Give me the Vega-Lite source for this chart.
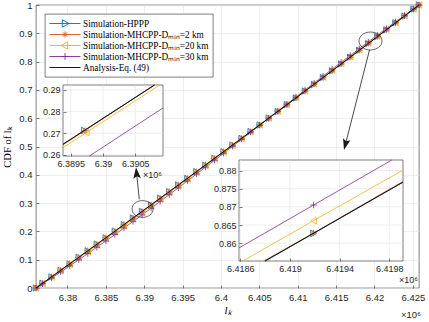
{
  "$schema": "https://vega.github.io/schema/vega-lite/v6.json",
  "width": 383,
  "height": 283,
  "autosize": {"type": "none"},
  "padding": {"left": 36, "top": 5, "right": 10, "bottom": 34},
  "background": "white",
  "config": {
    "view": {"stroke": "#262626", "strokeWidth": 0.6},
    "axis": {"labelFont": "Liberation Sans", "labelFontSize": 9.5, "labelColor": "#262626", "domain": false, "tickColor": "#262626", "tickSize": -3, "tickWidth": 0.6, "gridColor": "#e3e3e3", "gridWidth": 0.6, "gridOpacity": 1, "titleFontWeight": "normal", "titleColor": "#000000", "labelFlush": false, "labelOverlap": false},
    "point": {"opacity": 1},
    "text": {"font": "Liberation Sans"}
  },
  "resolve": {"scale": {"x": "independent", "y": "independent"}},
  "layer": [
    {
      "data": {"values": [
        {"x": 6.3759, "HPPP": 0, "M2": 0, "M20": 0, "M30": 0, "ANA": 0},
        {"x": 6.37675, "HPPP": 0.0168, "M2": 0.0163, "M20": 0.0159, "M30": 0.0148, "ANA": 0.0165},
        {"x": 6.37793, "HPPP": 0.0391, "M2": 0.0396, "M20": 0.0381, "M30": 0.0355, "ANA": 0.0394},
        {"x": 6.37911, "HPPP": 0.0627, "M2": 0.0622, "M20": 0.0605, "M30": 0.0566, "ANA": 0.0624},
        {"x": 6.38029, "HPPP": 0.0851, "M2": 0.0857, "M20": 0.0829, "M30": 0.078, "ANA": 0.0854},
        {"x": 6.38147, "HPPP": 0.1087, "M2": 0.1082, "M20": 0.1055, "M30": 0.0996, "ANA": 0.1084},
        {"x": 6.38265, "HPPP": 0.1312, "M2": 0.1318, "M20": 0.1282, "M30": 0.1216, "ANA": 0.1315},
        {"x": 6.38383, "HPPP": 0.1549, "M2": 0.1544, "M20": 0.151, "M30": 0.1438, "ANA": 0.1546},
        {"x": 6.385, "HPPP": 0.1773, "M2": 0.1779, "M20": 0.1738, "M30": 0.1662, "ANA": 0.1776},
        {"x": 6.38618, "HPPP": 0.201, "M2": 0.2005, "M20": 0.1967, "M30": 0.1889, "ANA": 0.2007},
        {"x": 6.38736, "HPPP": 0.2237, "M2": 0.2243, "M20": 0.22, "M30": 0.2119, "ANA": 0.224},
        {"x": 6.38854, "HPPP": 0.2475, "M2": 0.247, "M20": 0.2432, "M30": 0.2351, "ANA": 0.2472},
        {"x": 6.38972, "HPPP": 0.2708, "M2": 0.2706, "M20": 0.2665, "M30": 0.2585, "ANA": 0.2705},
        {"x": 6.3909, "HPPP": 0.2935, "M2": 0.2941, "M20": 0.2899, "M30": 0.2821, "ANA": 0.2938},
        {"x": 6.39208, "HPPP": 0.3175, "M2": 0.317, "M20": 0.3134, "M30": 0.3059, "ANA": 0.3172},
        {"x": 6.39326, "HPPP": 0.3403, "M2": 0.3409, "M20": 0.337, "M30": 0.3298, "ANA": 0.3406},
        {"x": 6.39444, "HPPP": 0.3643, "M2": 0.3638, "M20": 0.3606, "M30": 0.3539, "ANA": 0.364},
        {"x": 6.39562, "HPPP": 0.3872, "M2": 0.3878, "M20": 0.3844, "M30": 0.3782, "ANA": 0.3875},
        {"x": 6.3968, "HPPP": 0.4113, "M2": 0.4108, "M20": 0.4082, "M30": 0.4025, "ANA": 0.411},
        {"x": 6.39798, "HPPP": 0.4342, "M2": 0.4348, "M20": 0.432, "M30": 0.427, "ANA": 0.4345},
        {"x": 6.39916, "HPPP": 0.4584, "M2": 0.4579, "M20": 0.4559, "M30": 0.4516, "ANA": 0.4581},
        {"x": 6.40034, "HPPP": 0.4814, "M2": 0.482, "M20": 0.4799, "M30": 0.4762, "ANA": 0.4817},
        {"x": 6.40151, "HPPP": 0.5055, "M2": 0.505, "M20": 0.5037, "M30": 0.5008, "ANA": 0.5052},
        {"x": 6.40269, "HPPP": 0.5286, "M2": 0.5292, "M20": 0.5278, "M30": 0.5256, "ANA": 0.5289},
        {"x": 6.40387, "HPPP": 0.5529, "M2": 0.5524, "M20": 0.5519, "M30": 0.5504, "ANA": 0.5526},
        {"x": 6.40505, "HPPP": 0.576, "M2": 0.5766, "M20": 0.5759, "M30": 0.5752, "ANA": 0.5763},
        {"x": 6.40623, "HPPP": 0.6004, "M2": 0.5999, "M20": 0.6001, "M30": 0.6001, "ANA": 0.6001},
        {"x": 6.40741, "HPPP": 0.6237, "M2": 0.6243, "M20": 0.6243, "M30": 0.625, "ANA": 0.624},
        {"x": 6.40859, "HPPP": 0.6481, "M2": 0.6476, "M20": 0.6485, "M30": 0.6498, "ANA": 0.6478},
        {"x": 6.40977, "HPPP": 0.6714, "M2": 0.672, "M20": 0.6727, "M30": 0.6746, "ANA": 0.6717},
        {"x": 6.41095, "HPPP": 0.696, "M2": 0.6955, "M20": 0.697, "M30": 0.6995, "ANA": 0.6957},
        {"x": 6.41213, "HPPP": 0.7193, "M2": 0.7199, "M20": 0.7211, "M30": 0.7241, "ANA": 0.7196},
        {"x": 6.4133, "HPPP": 0.7437, "M2": 0.7432, "M20": 0.7451, "M30": 0.7485, "ANA": 0.7434},
        {"x": 6.41448, "HPPP": 0.7672, "M2": 0.7678, "M20": 0.7693, "M30": 0.773, "ANA": 0.7675},
        {"x": 6.41566, "HPPP": 0.7919, "M2": 0.7914, "M20": 0.7936, "M30": 0.7975, "ANA": 0.7916},
        {"x": 6.41684, "HPPP": 0.8154, "M2": 0.816, "M20": 0.8177, "M30": 0.8217, "ANA": 0.8157},
        {"x": 6.41802, "HPPP": 0.8401, "M2": 0.8396, "M20": 0.8418, "M30": 0.8458, "ANA": 0.8398},
        {"x": 6.4192, "HPPP": 0.8637, "M2": 0.8643, "M20": 0.8659, "M30": 0.8697, "ANA": 0.864},
        {"x": 6.42038, "HPPP": 0.8886, "M2": 0.8881, "M20": 0.8901, "M30": 0.8936, "ANA": 0.8883},
        {"x": 6.42156, "HPPP": 0.9122, "M2": 0.9128, "M20": 0.914, "M30": 0.9171, "ANA": 0.9125},
        {"x": 6.42274, "HPPP": 0.9371, "M2": 0.9366, "M20": 0.938, "M30": 0.9405, "ANA": 0.9368},
        {"x": 6.42392, "HPPP": 0.9608, "M2": 0.9614, "M20": 0.9619, "M30": 0.9636, "ANA": 0.9611},
        {"x": 6.42509, "HPPP": 0.9856, "M2": 0.9851, "M20": 0.9856, "M30": 0.9863, "ANA": 0.9853},
        {"x": 6.4258, "HPPP": 1, "M2": 1, "M20": 1, "M30": 1, "ANA": 1}
      ]},
      "transform": [{"fold": ["HPPP", "M2", "M20", "M30", "ANA"], "as": ["series", "cdf"]}],
      "encoding": {
        "x": {"field": "x", "type": "quantitative",
          "scale": {"domain": [6.3759, 6.4258], "nice": false, "zero": false},
          "axis": {"values": [6.38, 6.385, 6.39, 6.395, 6.4, 6.405, 6.41, 6.415, 6.42, 6.425], "format": "~g", "grid": true, "title": "lₖ", "titleFont": "Liberation Serif", "titleFontStyle": "italic", "titleFontSize": 11, "titlePadding": 3, "labelPadding": 7}},
        "y": {"field": "cdf", "type": "quantitative",
          "scale": {"domain": [0, 1], "nice": false},
          "axis": {"values": [0, 0.1, 0.2, 0.3, 0.4, 0.5, 0.6, 0.7, 0.8, 0.9, 1], "format": "~g", "grid": true, "title": "CDF of lₖ", "titleFont": "Liberation Serif", "titleFontSize": 10.5, "titlePadding": 6, "labelPadding": 7}}
      },
      "layer": [
        {
          "transform": [{"filter": "datum.series != 'ANA'"}],
          "mark": {"type": "line", "strokeWidth": 0.8},
          "encoding": {
            "color": {"field": "series", "type": "nominal",
              "scale": {"domain": ["HPPP", "M2", "M20", "M30", "ANA"], "range": ["#0072BD", "#D95319", "#EDB120", "#7E2F8E", "#000000"]},
              "legend": {
                "orient": "none", "legendX": 9, "legendY": 9, "direction": "vertical", "title": null,
                "symbolType": "stroke", "symbolSize": 961, "clipHeight": 11, "symbolStrokeWidth": 0.9,
                "padding": 4, "rowPadding": 0, "labelOffset": 2, "labelLimit": 400,
                "labelFont": "Liberation Serif", "labelFontSize": 9.3, "labelColor": "#000000",
                "fillColor": "white", "strokeColor": "#262626",
                "labelExpr": "datum.value == 'HPPP' ? 'Simulation-HPPP' : datum.value == 'M2' ? 'Simulation-MHCPP-Dₘᵢₙ=2 km' : datum.value == 'M20' ? 'Simulation-MHCPP-Dₘᵢₙ=20 km' : datum.value == 'M30' ? 'Simulation-MHCPP-Dₘᵢₙ=30 km' : 'Analysis-Eq. (49)'",
                "encode": {
                  "symbols": {"update": {
                    "shape": {"signal": "datum.value == 'HPPP' ? 'M-1,0H1M-0.17,-0.24L0.25,0L-0.17,0.24Z' : datum.value == 'M2' ? 'M-1,0H1M-0.2,0H0.2M0,-0.2V0.2M-0.14,-0.14L0.14,0.14M-0.14,0.14L0.14,-0.14' : datum.value == 'M20' ? 'M-1,0H1M0.17,-0.24L-0.25,0L0.17,0.24Z' : datum.value == 'M30' ? 'M-1,0H1M-0.22,0H0.22M0,-0.22V0.22' : 'M-1,0H1'"},
                    "fill": {"value": "transparent"},
                    "stroke": {"scale": "color", "field": "value"}
                  }},
                  "legend": {"update": {"strokeWidth": {"value": 0.6}}}
                }
              }}
          }
        },
        {
          "transform": [{"filter": "datum.series != 'ANA'"}],
          "mark": {"type": "point", "filled": false, "size": 40, "strokeWidth": 0.8, "opacity": 1},
          "encoding": {
            "color": {"field": "series", "type": "nominal"},
            "shape": {"field": "series", "type": "nominal", "legend": null,
              "scale": {"domain": ["HPPP", "M2", "M20", "M30"], "range": ["triangle-right", "M-1,0H1M0,-1V1M-0.7,-0.7L0.7,0.7M-0.7,0.7L0.7,-0.7", "triangle-left", "M-1,0H1M0,-1V1"]}}
          }
        },
        {
          "transform": [{"filter": "datum.series == 'ANA'"}],
          "mark": {"type": "line", "strokeWidth": 0.9},
          "encoding": {"color": {"field": "series", "type": "nominal"}}
        }
      ]
    },
    {
      "data": {"values": [{}]},
      "layer": [
        {
          "mark": {"type": "point", "shape": "M-1,0A1,0.8 0 1,1 1,0A1,0.8 0 1,1 -1,0Z", "size": 441, "filled": false, "stroke": "#262626", "strokeWidth": 0.7, "opacity": 1},
          "encoding": {
            "x": {"datum": 6.38978, "type": "quantitative", "scale": {"domain": [6.3759, 6.4258], "nice": false, "zero": false}, "axis": null},
            "y": {"datum": 0.2792, "type": "quantitative", "scale": {"domain": [0, 1], "nice": false, "zero": false}, "axis": null}
          }
        },
        {
          "mark": {"type": "point", "shape": "M-1,0A1,0.78 0 1,1 1,0A1,0.78 0 1,1 -1,0Z", "size": 529, "filled": false, "stroke": "#262626", "strokeWidth": 0.7, "opacity": 1},
          "encoding": {"x": {"datum": 6.41948}, "y": {"datum": 0.8728}}
        },
        {
          "mark": {"type": "rule", "color": "#1a1a1a", "strokeWidth": 0.8},
          "encoding": {"x": {"datum": 6.38936}, "y": {"datum": 0.3134}, "x2": {"datum": 6.38902}, "y2": {"datum": 0.4021}}
        },
        {
          "mark": {"type": "point", "shape": "M0,-1L0.55,0.6L0,0.3L-0.55,0.6Z", "size": 190, "filled": true, "color": "#1a1a1a", "angle": 354.1, "strokeWidth": 0, "opacity": 1},
          "encoding": {"x": {"datum": 6.38902}, "y": {"datum": 0.4021}}
        },
        {
          "mark": {"type": "rule", "color": "#1a1a1a", "strokeWidth": 0.8},
          "encoding": {"x": {"datum": 6.41935}, "y": {"datum": 0.841}, "x2": {"datum": 6.41625}, "y2": {"datum": 0.5113}}
        },
        {
          "mark": {"type": "point", "shape": "M0,-1L0.55,0.6L0,0.3L-0.55,0.6Z", "size": 190, "filled": true, "color": "#1a1a1a", "angle": 194.3, "strokeWidth": 0, "opacity": 1},
          "encoding": {"x": {"datum": 6.41625}, "y": {"datum": 0.5113}}
        },
        {
          "mark": {"type": "text", "text": "×10⁶", "align": "right", "baseline": "middle", "fontSize": 9.5, "color": "#262626"},
          "encoding": {"x": {"datum": 6.42606}, "y": {"datum": -0.095}}
        },
        {
          "mark": {"type": "text", "text": "×10⁶", "align": "left", "baseline": "middle", "fontSize": 9, "color": "#262626"},
          "encoding": {"x": {"datum": 6.38984}, "y": {"datum": 0.3993}}
        },
        {
          "mark": {"type": "text", "text": "×10⁶", "align": "right", "baseline": "middle", "fontSize": 9, "color": "#262626"},
          "encoding": {"x": {"datum": 6.42567}, "y": {"datum": 0.0283}}
        }
      ]
    },
    {
      "data": {"values": [
        {"series": "HPPP", "x": 6.38938, "y": 0.2649, "m": 0},
        {"series": "HPPP", "x": 6.38971, "y": 0.2713, "m": 1},
        {"series": "HPPP", "x": 6.3908, "y": 0.2923, "m": 0},
        {"series": "M2", "x": 6.38938, "y": 0.2647, "m": 0},
        {"series": "M2", "x": 6.38972, "y": 0.2712, "m": 1},
        {"series": "M2", "x": 6.39079, "y": 0.2923, "m": 0},
        {"series": "M20", "x": 6.38938, "y": 0.2634, "m": 0},
        {"series": "M20", "x": 6.38974, "y": 0.2703, "m": 1},
        {"series": "M20", "x": 6.39088, "y": 0.2923, "m": 0},
        {"series": "M30", "x": 6.38979, "y": 0.2595, "m": 0},
        {"series": "M30", "x": 6.39093, "y": 0.2817, "m": 0},
        {"series": "ANA", "x": 6.38938, "y": 0.26494, "m": 0},
        {"series": "ANA", "x": 6.3908, "y": 0.2923, "m": 0}
      ]},
      "layer": [
        {
          "data": {"values": [{}]},
          "mark": {"type": "rect", "fill": "white", "stroke": "#262626", "strokeWidth": 0.6},
          "encoding": {"x": {"datum": 6.38938}, "x2": {"datum": 6.39093}, "y": {"datum": 0.2595}, "y2": {"datum": 0.2923}}
        },
        {
          "data": {"values": [{"v": 6.3895}, {"v": 6.39}, {"v": 6.3905}]},
          "mark": {"type": "rule", "color": "#e3e3e3", "strokeWidth": 0.6},
          "encoding": {"x": {"field": "v", "type": "quantitative"}, "y": {"datum": 0.2595}, "y2": {"datum": 0.2923}}
        },
        {
          "data": {"values": [{"v": 0.26}, {"v": 0.27}, {"v": 0.28}, {"v": 0.29}]},
          "mark": {"type": "rule", "color": "#e3e3e3", "strokeWidth": 0.6},
          "encoding": {"y": {"field": "v", "type": "quantitative"}, "x": {"datum": 6.38938}, "x2": {"datum": 6.39093}}
        },
        {
          "transform": [{"filter": "datum.series != 'ANA'"}],
          "mark": {"type": "line", "strokeWidth": 0.8},
          "encoding": {
            "x": {"field": "x", "type": "quantitative",
              "scale": {"domain": [6.38938, 6.39093], "range": [27, 127], "nice": false, "zero": false},
              "axis": {"orient": "bottom", "offset": -132, "values": [6.3895, 6.39, 6.3905], "format": "~g", "grid": false, "title": null, "zindex": 1, "labelFontSize": 9, "labelPadding": 6}},
            "y": {"field": "y", "type": "quantitative",
              "scale": {"domain": [0.2595, 0.2923], "range": [151, 80], "nice": false, "zero": false},
              "axis": {"orient": "left", "offset": -27, "values": [0.26, 0.27, 0.28, 0.29], "format": "~g", "grid": false, "title": null, "zindex": 1, "labelFontSize": 9, "labelPadding": 6}},
            "color": {"field": "series", "type": "nominal"}
          }
        },
        {
          "transform": [{"filter": "datum.m == 1"}],
          "mark": {"type": "point", "filled": false, "size": 44, "strokeWidth": 0.8, "opacity": 1},
          "encoding": {
            "x": {"field": "x", "type": "quantitative"},
            "y": {"field": "y", "type": "quantitative"},
            "color": {"field": "series", "type": "nominal"},
            "shape": {"field": "series", "type": "nominal", "legend": null}
          }
        },
        {
          "transform": [{"filter": "datum.series == 'ANA'"}],
          "mark": {"type": "line", "strokeWidth": 0.9},
          "encoding": {
            "x": {"field": "x", "type": "quantitative"},
            "y": {"field": "y", "type": "quantitative"},
            "color": {"field": "series", "type": "nominal"}
          }
        }
      ]
    },
    {
      "data": {"values": [
        {"series": "HPPP", "x": 6.4188, "y": 0.8551, "m": 0},
        {"series": "HPPP", "x": 6.41919, "y": 0.8627, "m": 1},
        {"series": "HPPP", "x": 6.41991, "y": 0.8768, "m": 0},
        {"series": "M2", "x": 6.41879, "y": 0.8551, "m": 0},
        {"series": "M2", "x": 6.41919, "y": 0.8628, "m": 1},
        {"series": "M2", "x": 6.41991, "y": 0.877, "m": 0},
        {"series": "M20", "x": 6.41862, "y": 0.8551, "m": 0},
        {"series": "M20", "x": 6.41919, "y": 0.8662, "m": 1},
        {"series": "M20", "x": 6.41991, "y": 0.8801, "m": 0},
        {"series": "M30", "x": 6.41859, "y": 0.8587, "m": 0},
        {"series": "M30", "x": 6.41919, "y": 0.8705, "m": 1},
        {"series": "M30", "x": 6.41982, "y": 0.8829, "m": 0},
        {"series": "ANA", "x": 6.4188, "y": 0.8551, "m": 0},
        {"series": "ANA", "x": 6.41991, "y": 0.87681, "m": 0}
      ]},
      "layer": [
        {
          "data": {"values": [{}]},
          "mark": {"type": "rect", "fill": "white", "stroke": "#262626", "strokeWidth": 0.6},
          "encoding": {"x": {"datum": 6.41859}, "x2": {"datum": 6.41991}, "y": {"datum": 0.8551}, "y2": {"datum": 0.8829}}
        },
        {
          "data": {"values": [{"v": 6.4186}, {"v": 6.419}, {"v": 6.4194}, {"v": 6.4198}]},
          "mark": {"type": "rule", "color": "#e3e3e3", "strokeWidth": 0.6},
          "encoding": {"x": {"field": "v", "type": "quantitative"}, "y": {"datum": 0.8551}, "y2": {"datum": 0.8829}}
        },
        {
          "data": {"values": [{"v": 0.86}, {"v": 0.865}, {"v": 0.87}, {"v": 0.875}, {"v": 0.88}]},
          "mark": {"type": "rule", "color": "#e3e3e3", "strokeWidth": 0.6},
          "encoding": {"y": {"field": "v", "type": "quantitative"}, "x": {"datum": 6.41859}, "x2": {"datum": 6.41991}}
        },
        {
          "transform": [{"filter": "datum.series != 'ANA'"}],
          "mark": {"type": "line", "strokeWidth": 0.8},
          "encoding": {
            "x": {"field": "x", "type": "quantitative",
              "scale": {"domain": [6.41859, 6.41991], "range": [203, 367], "nice": false, "zero": false},
              "axis": {"orient": "bottom", "offset": -27, "values": [6.4186, 6.419, 6.4194, 6.4198], "format": "~g", "grid": false, "title": null, "zindex": 1, "labelFontSize": 9, "labelPadding": 6}},
            "y": {"field": "y", "type": "quantitative",
              "scale": {"domain": [0.8551, 0.8829], "range": [256, 155], "nice": false, "zero": false},
              "axis": {"orient": "left", "offset": -203, "values": [0.86, 0.865, 0.87, 0.875, 0.88], "format": "~g", "grid": false, "title": null, "zindex": 1, "labelFontSize": 9, "labelPadding": 6}},
            "color": {"field": "series", "type": "nominal"}
          }
        },
        {
          "transform": [{"filter": "datum.m == 1"}],
          "mark": {"type": "point", "filled": false, "size": 44, "strokeWidth": 0.8, "opacity": 1},
          "encoding": {
            "x": {"field": "x", "type": "quantitative"},
            "y": {"field": "y", "type": "quantitative"},
            "color": {"field": "series", "type": "nominal"},
            "shape": {"field": "series", "type": "nominal", "legend": null}
          }
        },
        {
          "transform": [{"filter": "datum.series == 'ANA'"}],
          "mark": {"type": "line", "strokeWidth": 0.9},
          "encoding": {
            "x": {"field": "x", "type": "quantitative"},
            "y": {"field": "y", "type": "quantitative"},
            "color": {"field": "series", "type": "nominal"}
          }
        }
      ]
    }
  ]
}
